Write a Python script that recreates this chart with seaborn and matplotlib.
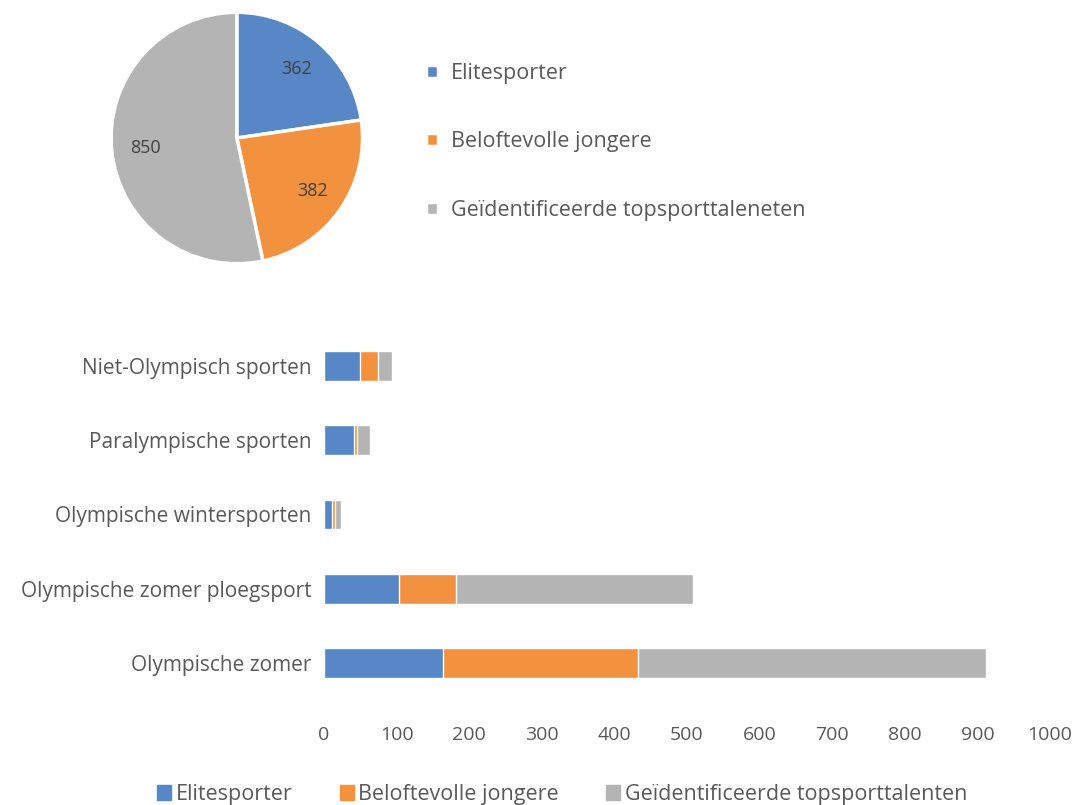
import numpy as np
import pandas as pd
import matplotlib
matplotlib.use("Agg")
import matplotlib.pyplot as plt
import seaborn as sns
from matplotlib.patches import Patch

sns.set_theme(style="white")
plt.rcParams['font.family'] = ['Open Sans', 'DejaVu Sans']

# data
pie_labels = ['Elitesporter', 'Beloftevolle jongere', 'Geïdentificeerde topsporttaleneten']
pie_values = [362, 382, 850]

categories = ['Niet-Olympisch sporten', 'Paralympische sporten', 'Olympische wintersporten',
              'Olympische zomer ploegsport', 'Olympische zomer']
elite = [49, 41, 11, 104, 164]
belofte = [26, 4, 4, 78, 268]
talent = [19, 19, 8, 327, 480]
bar_labels = ['Elitesporter', 'Beloftevolle jongere', 'Geïdentificeerde topsporttalenten']

colors = ['#5787C6', '#F2923F', '#B4B4B4']
text_col = '#595959'

fig = plt.figure(figsize=(10.77, 8.05), dpi=100)

# pie
ax_pie = fig.add_axes([0.102, 0.6708, 0.2358, 0.3155])
total = sum(pie_values)
wedges, _, autotexts = ax_pie.pie(
    pie_values, colors=colors, startangle=90, counterclock=False,
    autopct=lambda p: '{:.0f}'.format(p * total / 100), pctdistance=0.73,
    wedgeprops=dict(edgecolor='white', linewidth=2.5),
    textprops=dict(color='#404040', fontsize=13))
ax_pie.set_aspect('equal')
ax_pie.set_xlim(-1.01, 1.01)
ax_pie.set_ylim(-1.01, 1.01)
ax_pie.legend(wedges, pie_labels, loc='center left', bbox_to_anchor=(1.17, 0.485),
              frameon=False, fontsize=15.5, labelcolor=text_col,
              handlelength=0.55, handleheight=0.55, handletextpad=0.6,
              labelspacing=2.2)

# stacked bars
df = pd.DataFrame({'cat': categories, 'elite': elite, 'belofte': belofte, 'talent': talent})
df['c1'] = df['elite']
df['c2'] = df['elite'] + df['belofte']
df['c3'] = df['c2'] + df['talent']

ax = fig.add_axes([0.3008, 0.1304, 0.6741, 0.461])
for col, c in zip(['c3', 'c2', 'c1'], colors[::-1]):
    sns.barplot(data=df, x=col, y='cat', order=categories, color=c,
                orient='h', width=0.4, saturation=1, ax=ax)
ax.set_xlim(0, 1000)
ax.set_xticks(np.arange(0, 1001, 100))
ax.set_xlabel('')
ax.set_ylabel('')
sns.despine(ax=ax, left=True, bottom=True)
ax.tick_params(axis='x', length=0, pad=19, labelsize=14, labelcolor=text_col)
ax.tick_params(axis='y', length=0, pad=9, labelsize=15, labelcolor=text_col)
ax.grid(False)

handles = [Patch(color=c) for c in colors]
fig.legend(handles, bar_labels, loc='lower center', bbox_to_anchor=(0.522, -0.024),
           ncol=3, frameon=False, fontsize=15.5, labelcolor=text_col,
           handlelength=0.65, handleheight=0.65, handletextpad=0.22, columnspacing=2.2)

fig.savefig('out.png', dpi=100)
